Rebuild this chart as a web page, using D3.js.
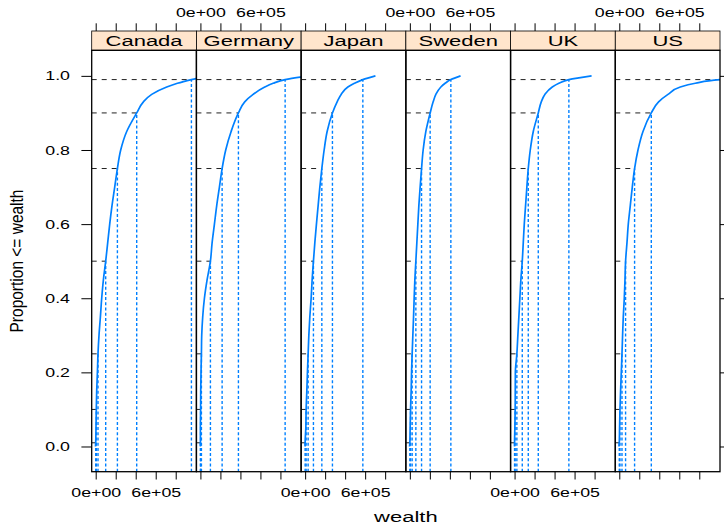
<!DOCTYPE html>
<html><head><meta charset="utf-8">
<script src="https://cdn.jsdelivr.net/npm/d3@7"></script>
<style>body{margin:0;background:#fff}svg{display:block}text{font-family:"Liberation Sans",Arial,Helvetica,sans-serif;fill:#000}</style>
</head><body>
<svg id="c" width="724" height="525"></svg>
<script>
// ---------------- data ----------------
const countries = ["Canada", "Germany", "Japan", "Sweden", "UK", "US"];
const probs = [0, 0.01, 0.05, 0.1, 0.15, 0.2, 0.25, 0.3, 0.35, 0.4, 0.45, 0.5, 0.55, 0.6, 0.65, 0.7, 0.75, 0.8, 0.85, 0.9, 0.93, 0.95, 0.97, 0.98, 0.99, 1.0];
const wealthCanada  = [-2000, 0, 3000, 6000, 10000, 17000, 23000, 33000, 47000, 60000, 77000, 100000, 120000, 140000, 163000, 190000, 217000, 250000, 310000, 410000, 477000, 560000, 710000, 817000, 957000, 1120000];
const wealthGermany = [0, 0, 0, 2000, 3000, 6000, 10000, 13000, 23000, 40000, 67000, 100000, 117000, 140000, 163000, 190000, 217000, 253000, 307000, 380000, 443000, 527000, 643000, 727000, 847000, 1080000];
const wealthJapan   = [0, 0, 7000, 10000, 17000, 23000, 30000, 37000, 47000, 60000, 70000, 83000, 97000, 113000, 130000, 147000, 167000, 190000, 220000, 273000, 320000, 360000, 427000, 493000, 577000, 703000];
const wealthSweden  = [-3000, 0, 3000, 7000, 13000, 17000, 23000, 30000, 37000, 43000, 50000, 60000, 70000, 80000, 90000, 103000, 117000, 133000, 160000, 203000, 233000, 260000, 310000, 353000, 410000, 507000];
const wealthUK      = [0, 0, 3000, 6000, 7000, 8000, 23000, 33000, 43000, 53000, 63000, 77000, 87000, 97000, 110000, 123000, 137000, 157000, 187000, 237000, 267000, 303000, 377000, 443000, 543000, 770000];
const wealthUS      = [-3000, 0, 3000, 7000, 13000, 20000, 27000, 33000, 40000, 50000, 57000, 63000, 77000, 90000, 110000, 130000, 153000, 187000, 237000, 320000, 393000, 487000, 610000, 760000, 1027000, 2500000];
const quantileProbs = [0.01, 0.1, 0.25, 0.5, 0.75, 0.9, 0.99];
const xTicks = [0, 200000, 400000, 600000, 800000];
const xTickLabels = ["0e+00", "", "", "6e+05", ""];
const yTicks = [0, 0.2, 0.4, 0.6, 0.8, 1.0];
const yTickLabels = ["0.0", "0.2", "0.4", "0.6", "0.8", "1.0"];
const xTitle = "wealth";
const yTitle = "Proportion <= wealth";

const wealthBy = {Canada: wealthCanada, Germany: wealthGermany, Japan: wealthJapan, Sweden: wealthSweden, UK: wealthUK, US: wealthUS};

// ---------------- layout ----------------
const SX = 1.42;               // horizontal text stretch seen in the reference
const pLeft = 91.7, pRight = 720, pTop = 50.3, pBottom = 471.7, stripTop = 31;
const pw = (pRight - pLeft) / countries.length;
const curveCol = "#0080ff";

const svg = d3.select("#c");
const y = d3.scaleLinear().domain([-0.068, 1.069]).range([pBottom, pTop]);
const defs = svg.append("defs");

function stretchText(sel) {
  sel.selectAll("text").attr("transform", `scale(${SX},1)`)
    .style("font-size", "12.5px").style("font-family", '"Liberation Sans",Arial,sans-serif');
}

countries.forEach((c, i) => {
  const x0 = pLeft + i * pw;
  const x = d3.scaleLinear().domain([-40000, 1007000]).range([x0, x0 + pw]);
  const w = wealthBy[c];
  const g = svg.append("g");

  defs.append("clipPath").attr("id", "clip" + i)
    .append("rect").attr("x", x0).attr("y", pTop).attr("width", pw).attr("height", pBottom - pTop);
  const pg = g.append("g").attr("clip-path", `url(#clip${i})`);

  // horizontal dashed reference segments
  quantileProbs.forEach(p => {
    const q = w[probs.indexOf(p)];
    pg.append("line")
      .attr("x1", x(x.domain()[0])).attr("x2", x(q))
      .attr("y1", y(p)).attr("y2", y(p))
      .attr("stroke", "#222").attr("stroke-width", 1).attr("stroke-dasharray", "5,5");
  });
  // vertical dotted quantile lines
  quantileProbs.forEach(p => {
    const q = w[probs.indexOf(p)];
    pg.append("line")
      .attr("x1", x(q)).attr("x2", x(q))
      .attr("y1", y(y.domain()[0])).attr("y2", y(p))
      .attr("stroke", curveCol).attr("stroke-width", 1.4).attr("stroke-dasharray", "3,2.2");
  });
  // ecdf curve
  const line = d3.line().x(d => x(d[0])).y(d => y(d[1])).curve(d3.curveMonotoneY);
  pg.append("path").datum(w.map((v, k) => [v, probs[k]]))
    .attr("d", line).attr("fill", "none").attr("stroke", curveCol).attr("stroke-width", 1.7)
    .attr("stroke-linejoin", "round");

  // bottom axis
  const bAxis = g.append("g").attr("transform", `translate(0,${pBottom})`)
    .call(d3.axisBottom(x).tickValues(xTicks).tickSize(7.8).tickPadding(8.3)
      .tickFormat((d, k) => (i % 2 === 0 ? xTickLabels[k] : "")));
  bAxis.select(".domain").remove();
  bAxis.selectAll("line").attr("stroke", "#000");
  stretchText(bAxis);

  // top axis
  const tAxis = g.append("g").attr("transform", `translate(0,${stripTop})`)
    .call(d3.axisTop(x).tickValues(xTicks).tickSize(7.7).tickPadding(6)
      .tickFormat((d, k) => (i % 2 === 1 ? xTickLabels[k] : "")));
  tAxis.select(".domain").remove();
  tAxis.selectAll("line").attr("stroke", "#000");
  stretchText(tAxis);

  // strip
  g.append("rect").attr("x", x0).attr("y", stripTop).attr("width", pw).attr("height", pTop - stripTop)
    .attr("fill", "#ffe5cc").attr("stroke", "#000").attr("stroke-width", 0.8);
  g.append("text").attr("transform", `translate(${x0 + pw / 2},46) scale(${SX},1)`)
    .attr("text-anchor", "middle").style("font-size", "15.5px").text(c);

  // panel border
  g.append("rect").attr("x", x0).attr("y", pTop).attr("width", pw).attr("height", pBottom - pTop)
    .attr("fill", "none").attr("stroke", "#000").attr("stroke-width", 1.3);
});

// left axis
const lAxis = svg.append("g").attr("transform", `translate(${pLeft},0)`)
  .call(d3.axisLeft(y).tickValues(yTicks).tickSize(10.3).tickPadding(5)
    .tickFormat((d, k) => yTickLabels[k]));
lAxis.select(".domain").remove();
lAxis.selectAll("line").attr("stroke", "#000");
stretchText(lAxis);

// right axis
const rAxis = svg.append("g").attr("transform", `translate(${pRight},0)`)
  .call(d3.axisRight(y).tickValues(yTicks).tickSize(10.3).tickFormat(() => ""));
rAxis.select(".domain").remove();
rAxis.selectAll("line").attr("stroke", "#000");

// titles
svg.append("text").attr("transform", `translate(${(pLeft + pRight) / 2},521.7) scale(${SX},1)`)
  .attr("text-anchor", "middle").style("font-size", "15.5px").text(xTitle);
svg.append("text").attr("transform", `translate(23,${(pTop + pBottom) / 2}) scale(1.2,1) rotate(-90)`)
  .attr("text-anchor", "middle").style("font-size", "15.5px").text(yTitle);
</script>
</body></html>
